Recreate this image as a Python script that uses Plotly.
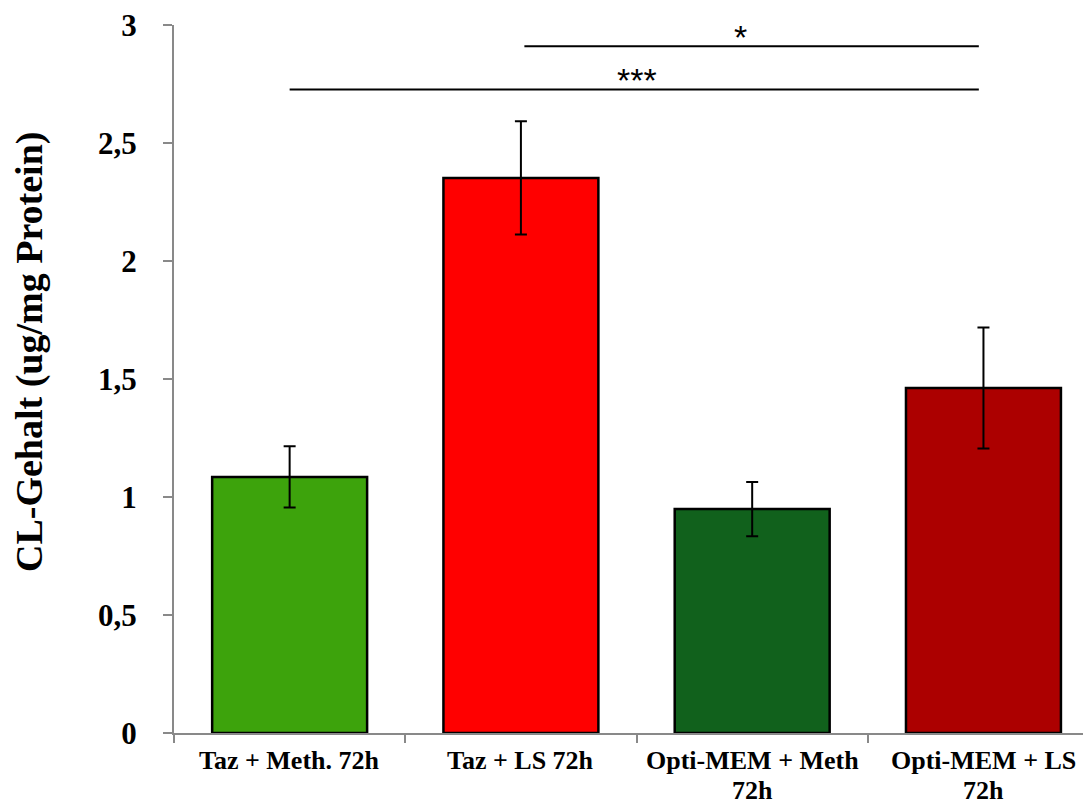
import plotly.graph_objects as go

categories = ["Taz + Meth. 72h", "Taz + LS 72h", "Opti-MEM + Meth<br>72h", "Opti-MEM + LS<br>72h"]
values = [1.085, 2.352, 0.949, 1.462]
errors = [0.13, 0.24, 0.115, 0.256]
colors = ["#3DA30C", "#FF0000", "#11611C", "#AC0000"]
y_ticks = [0, 0.5, 1, 1.5, 2, 2.5, 3]
y_tick_labels = ["0", "0,5", "1", "1,5", "2", "2,5", "3"]

# significance brackets: (start, end, y level, label, label x)
sig_start = [1.015, 0.0]
sig_end = [2.98, 2.98]
sig_level = [2.91, 2.727]
sig_label = ["*", "***"]
sig_label_x = [1.95, 1.5]

serif = "Liberation Serif"
n = len(categories)

fig = go.Figure()
fig.add_trace(go.Bar(
    x=list(range(n)),
    y=values,
    width=0.67,
    marker=dict(color=colors, line=dict(color="black", width=2.5)),
    error_y=dict(type="data", array=errors, visible=True, color="black",
                 thickness=2, width=6),
    showlegend=False,
))

for s, e, lvl, lab, lx in zip(sig_start, sig_end, sig_level, sig_label, sig_label_x):
    fig.add_shape(type="line", x0=s, x1=e, y0=lvl, y1=lvl, xref="x", yref="y",
                  line=dict(color="black", width=2))
    fig.add_annotation(x=lx, y=lvl, xref="x", yref="y", text=lab, showarrow=False,
                       yanchor="bottom", yshift=-12,
                       font=dict(family="Liberation Sans", size=34, color="black"))

# category labels under the bars (one annotation per text line)
for i, c in enumerate(categories):
    for j, line in enumerate(c.split("<br>")):
        fig.add_annotation(x=i, y=0, xref="x", yref="y", text="<b>" + line + "</b>",
                           showarrow=False, yanchor="top", yshift=-11 - 30 * j,
                           font=dict(family=serif, size=26, color="black"))

W, H, off = 1091, 805, 8  # page body margin offset
fig.add_annotation(
    text="<b>CL-Gehalt (ug/mg Protein)</b>", textangle=-90,
    xref="paper", yref="paper", x=(29 - 174) / 917, y=(733 - 352) / 708,
    xanchor="center", yanchor="middle", showarrow=False,
    font=dict(family=serif, size=38, color="black"),
)

fig.update_layout(
    width=W - off, height=H - off,
    margin=dict(l=174 - off, r=0, t=25 - off, b=72),
    plot_bgcolor="white", paper_bgcolor="white",
    xaxis=dict(
        range=[-0.5, 3.465],
        tickmode="array",
        tickvals=[i - 0.5 for i in range(n + 1)],
        showticklabels=False,
        showline=True, linecolor="#898989", linewidth=2,
        ticks="outside", tickcolor="#898989", ticklen=8, tickwidth=2,
        showgrid=False, zeroline=False, automargin=False,
    ),
    yaxis=dict(
        range=[0, 3],
        tickmode="array", tickvals=y_ticks,
        ticktext=["<b>" + t + "</b>" for t in y_tick_labels],
        showline=True, linecolor="#898989", linewidth=2,
        ticks="outside", tickcolor="#898989", ticklen=9, tickwidth=2,
        showgrid=False, zeroline=False, automargin=False,
        ticklabelstandoff=20, ticklabeloverflow="allow",
        tickfont=dict(family=serif, size=31, color="black"),
    ),
)

fig.write_html("out.html")
